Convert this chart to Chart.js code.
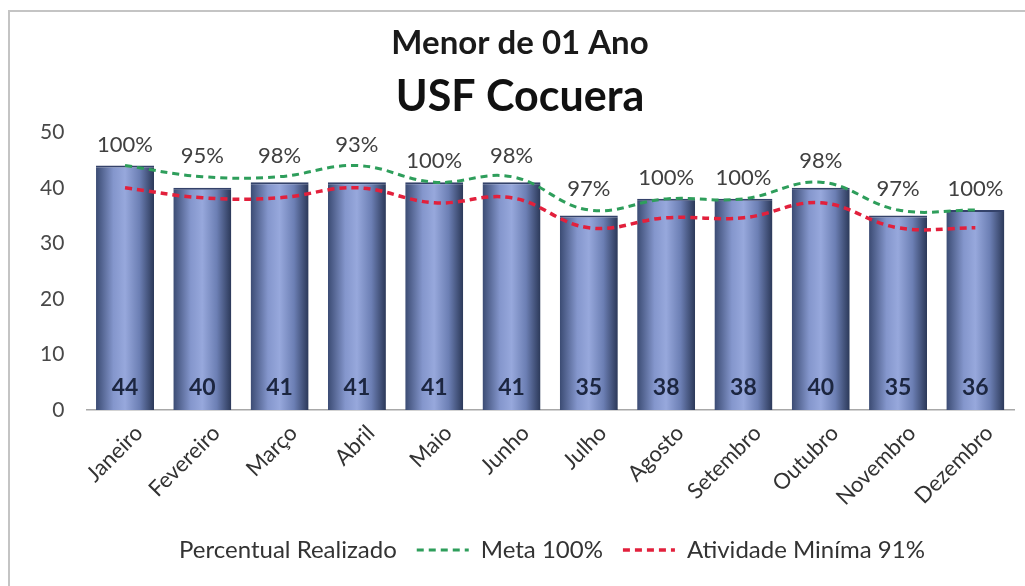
<!DOCTYPE html>
<html>
<head>
<meta charset="utf-8">
<script src="https://cdn.jsdelivr.net/npm/chart.js@4.4.1/dist/chart.umd.min.js"></script>
<style>
  body { margin: 0; background: #fff; }
  #wrap {
    position: absolute; left: 8px; top: 10px;
    width: 1017px; height: 576px;
    border-left: 2px solid #c4c4c4; border-top: 2px solid #c4c4c4;
  }
</style>
</head>
<body>
<div id="wrap"><canvas id="chart" width="1015" height="574"></canvas></div>
<script>
const months = ["Janeiro", "Fevereiro", "Março", "Abril", "Maio", "Junho",
  "Julho", "Agosto", "Setembro", "Outubro", "Novembro", "Dezembro"];
const realizado = [44, 40, 41, 41, 41, 41, 35, 38, 38, 40, 35, 36];
const percentual = [100, 95, 98, 93, 100, 98, 97, 100, 100, 98, 97, 100];
const meta = [44, 42, 42, 44, 41, 42, 36, 38, 38, 41, 36, 36];
const minima = [40, 38.2, 38.2, 40, 37.3, 38.2, 32.8, 34.6, 34.6, 37.3, 32.8, 32.8];
const yTicks = [0, 10, 20, 30, 40, 50];

const FONT = "Lato, 'Liberation Sans', sans-serif";
const BAR_PCT = 0.75;

// cylinder look: dark edges, light middle
function barFill(ctx) {
  const chart = ctx.chart;
  const area = chart.chartArea;
  if (!area || ctx.type !== "data") return "#6d80b6";
  const x = chart.scales.x.getPixelForValue(ctx.dataIndex);
  const half = (area.width / months.length) * BAR_PCT / 2;
  const g = chart.ctx.createLinearGradient(x - half, 0, x + half, 0);
  g.addColorStop(0, "#3b4b73");
  g.addColorStop(0.3, "#8496cc");
  g.addColorStop(0.5, "#97a8dc");
  g.addColorStop(0.75, "#6c7fb4");
  g.addColorStop(1, "#2b3858");
  return g;
}

const labelsPlugin = {
  id: "labels",
  afterDatasetsDraw(chart) {
    const c = chart.ctx;
    const y = chart.scales.y;
    const bars = chart.getDatasetMeta(0).data;
    c.save();
    c.textAlign = "center";
    c.textBaseline = "middle";
    bars.forEach((bar, i) => {
      c.font = "bold 23px " + FONT;
      c.fillStyle = "#1c2640";
      c.fillText(realizado[i], bar.x, y.bottom - 22);
      c.font = "22px " + FONT;
      c.fillStyle = "#404040";
      c.fillText(percentual[i] + "%", bar.x, y.getPixelForValue(meta[i]) - 21);
    });
    c.restore();
  }
};

new Chart(document.getElementById("chart"), {
  data: {
    labels: months,
    datasets: [
      {
        type: "bar",
        label: "Realizado",
        data: realizado,
        backgroundColor: barFill,
        borderColor: "#34426a",
        borderWidth: { top: 2, left: 0, right: 0, bottom: 0 },
        barPercentage: BAR_PCT,
        categoryPercentage: 1,
        order: 3,
      },
      {
        type: "line",
        label: "Percentual Realizado",
        data: percentual,
        yAxisID: "yPct",
        showLine: false,
        pointRadius: 0,
        borderColor: "rgba(0,0,0,0)",
        borderWidth: 0,
        order: 2,
      },
      {
        type: "line",
        label: "Meta 100%",
        data: meta,
        borderColor: "#2e9e5b",
        borderDash: [7, 5],
        borderWidth: 3,
        pointRadius: 0,
        tension: 0.4,
        fill: false,
        order: 1,
      },
      {
        type: "line",
        label: "Atividade Miníma 91%",
        data: minima,
        borderColor: "#e2203c",
        borderDash: [7, 5],
        borderWidth: 3.5,
        pointRadius: 0,
        tension: 0.4,
        fill: false,
        order: 0,
      },
    ],
  },
  options: {
    responsive: false,
    animation: false,
    layout: { padding: { left: 16, right: 11, top: 0, bottom: 14 } },
    scales: {
      x: {
        grid: { display: false },
        border: { color: "#a8a8a8", width: 1.5 },
        ticks: {
          color: "#333",
          font: { family: FONT, size: 22 },
          minRotation: 45,
          maxRotation: 45,
          labelOffset: 14,
          padding: 2,
        },
        afterFit: (s) => { s.height = 108; },
      },
      y: {
        min: 0,
        max: 50,
        afterBuildTicks: (s) => { s.ticks = yTicks.map((v) => ({ value: v })); },
        grid: { display: false },
        border: { display: false },
        ticks: { color: "#484848", font: { family: FONT, size: 21 }, padding: 14 },
      },
      yPct: { display: false, min: 0, max: 100 },
    },
    plugins: {
      title: {
        display: true,
        text: "Menor de 01 Ano",
        color: "#1a1a1a",
        font: { family: FONT, size: 33, weight: "bold" },
        padding: { top: 12, bottom: 8 },
      },
      subtitle: {
        display: true,
        text: "USF Cocuera",
        color: "#111",
        font: { family: FONT, size: 43, weight: "bold" },
        padding: { top: 0, bottom: 9 },
      },
      legend: {
        position: "bottom",
        labels: {
          generateLabels: (chart) => chart.data.datasets.slice(1).map((ds, k) => ({
            text: ds.label,
            datasetIndex: k + 1,
            fillStyle: "rgba(0,0,0,0)",
            strokeStyle: ds.borderColor,
            lineWidth: ds.borderWidth,
            lineDash: ds.borderDash || [],
            pointStyle: "line",
            fontColor: "#333",
            hidden: false,
          })),
          usePointStyle: true,
          pointStyleWidth: 52,
          boxHeight: 10,
          padding: 20,
          color: "#333",
          font: { family: FONT, size: 24 },
        },
      },
      tooltip: { enabled: false },
    },
  },
  plugins: [labelsPlugin],
});
</script>
</body>
</html>
